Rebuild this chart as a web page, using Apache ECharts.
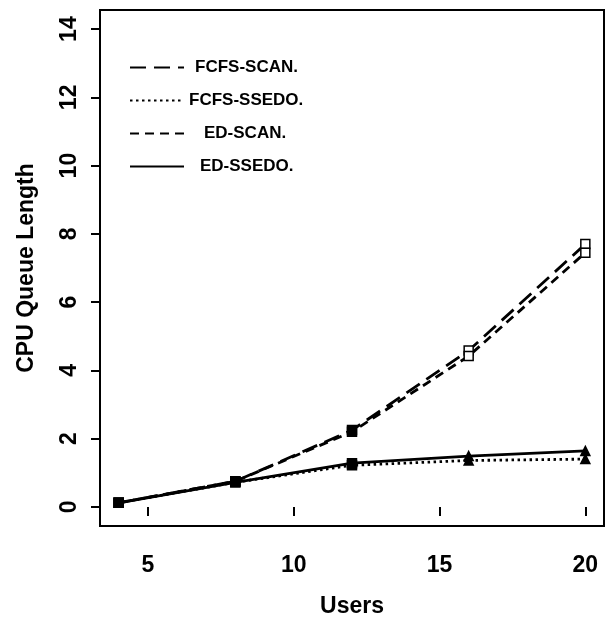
<!DOCTYPE html>
<html>
<head>
<meta charset="utf-8">
<script src="https://cdn.jsdelivr.net/npm/echarts@6/dist/echarts.min.js"></script>
<style>html,body{margin:0;padding:0;background:#fff}#c{width:612px;height:623px}</style>
</head>
<body>
<div id="c"></div>
<script>
const users = [4, 8, 12, 16, 20];
const fcfsScan = [0.12, 0.75, 2.25, 4.58, 7.70];
const fcfsSsedo = [0.12, 0.72, 1.22, 1.36, 1.40];
const edScan = [0.12, 0.75, 2.20, 4.42, 7.45];
const edSsedo = [0.12, 0.72, 1.28, 1.49, 1.64];
const xTicks = [5, 10, 15, 20];
const yTicks = [0, 2, 4, 6, 8, 10, 12, 14];
const seriesNames = ['FCFS-SCAN.', 'FCFS-SSEDO.', 'ED-SCAN.', 'ED-SSEDO.'];

const FONT = '"Liberation Sans", Arial, Helvetica, sans-serif';
const pairs = a => users.map((u, i) => [u, a[i]]);

function scanSymbol(v, p) { return 'rect'; }
function ssedoSymbol(v, p) { return p.dataIndex >= 3 ? 'triangle' : 'rect'; }

function mk(name, data, dash, symFn, hollowLater) {
  return {
    name: name,
    type: 'line',
    data: pairs(data),
    symbol: symFn,
    symbolSize: 9,
    showAllSymbol: true,
    lineStyle: { color: '#000', width: 2.8, type: dash, cap: 'butt' },
    itemStyle: {
      color: function (p) { return (hollowLater && p.dataIndex >= 3) ? '#fff' : '#000'; },
      borderColor: '#000', borderWidth: 1.5
    },
    animation: false
  };
}

const legendPad = [6, 0, 15, 11];
const chart = echarts.init(document.getElementById('c'));
chart.setOption({
  backgroundColor: '#fff',
  animation: false,
  grid: { left: 100, right: 8, top: 10, bottom: 96, show: true, borderColor: '#000', borderWidth: 2, backgroundColor: 'transparent' },
  legend: {
    data: seriesNames.map((n, i) => ({ name: n, textStyle: { padding: [0, 0, 0, legendPad[i]] } })),
    orient: 'vertical',
    left: 124, top: 54,
    itemWidth: 54, itemHeight: 14, itemGap: 16,
    itemStyle: { opacity: 0 },
    textStyle: { fontFamily: FONT, fontWeight: 'bold', fontSize: 17, color: '#000' },
    selectedMode: false
  },
  xAxis: {
    type: 'value', min: 3.36, max: 20.64,
    name: 'Users', nameLocation: 'middle', nameGap: 69,
    nameTextStyle: { fontFamily: FONT, fontWeight: 'bold', fontSize: 23, color: '#000' },
    axisLine: { show: false },
    axisTick: { show: true, length: 9, lineStyle: { color: '#000', width: 2 }, customValues: xTicks },
    axisLabel: { fontFamily: FONT, fontWeight: 'bold', fontSize: 23, color: '#000', margin: 28, customValues: xTicks },
    splitLine: { show: false }
  },
  yAxis: {
    type: 'value', min: -0.56, max: 14.56,
    name: 'CPU Queue Length', nameLocation: 'middle', nameGap: 62,
    nameTextStyle: { fontFamily: FONT, fontWeight: 'bold', fontSize: 23, color: '#000' },
    axisLine: { show: false },
    axisTick: { show: true, length: 9, lineStyle: { color: '#000', width: 2 }, customValues: yTicks },
    axisLabel: { fontFamily: FONT, fontWeight: 'bold', fontSize: 23, color: '#000', margin: 19, rotate: 90, customValues: yTicks },
    splitLine: { show: false }
  },
  series: [
    mk(seriesNames[0], fcfsScan, [16, 8], scanSymbol, true),
    mk(seriesNames[1], fcfsSsedo, [2.5, 3.5], ssedoSymbol, false),
    mk(seriesNames[2], edScan, [9, 6], scanSymbol, true),
    mk(seriesNames[3], edSsedo, 'solid', ssedoSymbol, false)
  ]
});
</script>
</body>
</html>
